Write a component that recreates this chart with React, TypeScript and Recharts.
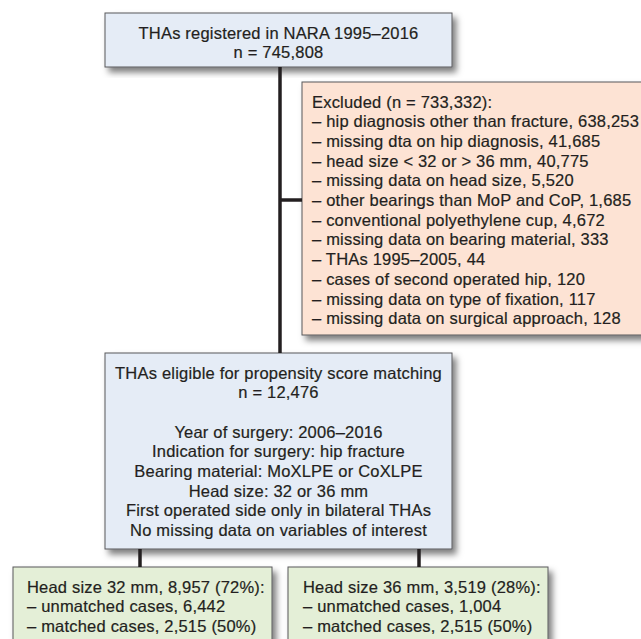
import { ComposedChart, XAxis, YAxis, ReferenceArea, ReferenceLine } from 'recharts';

// box texts
const registeredLines = ['THAs registered in NARA 1995–2016', 'n = 745,808'];

const excludedTotal = 733332;
const excludedReasons = [
  'hip diagnosis other than fracture',
  'missing dta on hip diagnosis',
  'head size < 32 or > 36 mm',
  'missing data on head size',
  'other bearings than MoP and CoP',
  'conventional polyethylene cup',
  'missing data on bearing material',
  'THAs 1995–2005',
  'cases of second operated hip',
  'missing data on type of fixation',
  'missing data on surgical approach',
];
const excludedCounts = [638253, 41685, 40775, 5520, 1685, 4672, 333, 44, 120, 117, 128];

const eligibleLines = [
  'THAs eligible for propensity score matching',
  'n = 12,476',
  '',
  'Year of surgery: 2006–2016',
  'Indication for surgery: hip fracture',
  'Bearing material: MoXLPE or CoXLPE',
  'Head size: 32 or 36 mm',
  'First operated side only in bilateral THAs',
  'No missing data on variables of interest',
];

const head32Lines = ['Head size 32 mm, 8,957 (72%):', '– unmatched cases, 6,442', '– matched cases, 2,515 (50%)'];
const head36Lines = ['Head size 36 mm, 3,519 (28%):', '– unmatched cases, 1,004', '– matched cases, 2,515 (50%)'];

const fmt = (n: number) => n.toLocaleString('en-US');
const excludedLines = [
  `Excluded (n = ${fmt(excludedTotal)}):`,
  ...excludedReasons.map((r, i) => `– ${r}, ${fmt(excludedCounts[i])}`),
];

const W = 641;
const H = 639;
const INK = '#231f20';
const FONT = '"Liberation Sans", Arial, Helvetica, sans-serif';
const LINE_H = 19.7;

function FlowBox(props: any) {
  const { x, y, width, height, lines, fill, align, pad, id } = props;
  const tx = align === 'middle' ? x + width / 2 : x + pad;
  return (
    <g>
      <defs>
        <filter id={id} x="-10%" y="-10%" width="130%" height="130%">
          <feDropShadow dx="4" dy="5" stdDeviation="3" floodColor="#000" floodOpacity="0.5" />
        </filter>
      </defs>
      <rect x={x} y={y} width={width} height={height} fill={fill} stroke="#58595b" strokeWidth={1} filter={`url(#${id})`} />
      {lines.map((t: string, i: number) => (
        <text
          key={i}
          x={tx}
          y={y + 19.5 + i * LINE_H}
          textAnchor={align === 'middle' ? 'middle' : 'start'}
          dominantBaseline="central"
          fontFamily={FONT}
          fontSize={16.5}
          letterSpacing={0.2}
          fill={INK}
          stroke={INK}
          strokeWidth={0.2}
        >
          {t}
        </text>
      ))}
    </g>
  );
}

const boxes = [
  { id: 'reg', x1: 105, x2: 452, y1: 13, y2: 67, lines: registeredLines, fill: '#e5ecf6', align: 'middle', pad: 0 },
  { id: 'exc', x1: 302, x2: 660, y1: 82, y2: 335, lines: excludedLines, fill: '#fde3d4', align: 'start', pad: 10 },
  { id: 'eli', x1: 105, x2: 452, y1: 353, y2: 549, lines: eligibleLines, fill: '#e5ecf6', align: 'middle', pad: 0 },
  { id: 'h32', x1: 13, x2: 272, y1: 567, y2: 660, lines: head32Lines, fill: '#e4efd7', align: 'start', pad: 14 },
  { id: 'h36', x1: 288, x2: 548, y1: 567, y2: 660, lines: head36Lines, fill: '#e4efd7', align: 'start', pad: 15 },
];

const connectors = [
  { x1: 280, y1: 67, x2: 280, y2: 353 },
  { x1: 280, y1: 200, x2: 302, y2: 200 },
  { x1: 140, y1: 549, x2: 140, y2: 567 },
  { x1: 419, y1: 549, x2: 419, y2: 567 },
];

export default function App() {
  return (
    <>
      <style>{`body{margin:0;}`}</style>
      <ComposedChart width={W} height={H} margin={{ top: 0, right: 0, bottom: 0, left: 0 }}>
        <XAxis type="number" dataKey="x" domain={[0, W]} hide allowDataOverflow />
        <YAxis type="number" dataKey="y" domain={[0, H]} reversed hide allowDataOverflow />
        {connectors.map((c, i) => (
          <ReferenceLine
            key={i}
            segment={[{ x: c.x1, y: c.y1 }, { x: c.x2, y: c.y2 }]}
            stroke={INK}
            strokeWidth={3.5}
            ifOverflow="visible"
          />
        ))}
        {boxes.map((b) => (
          <ReferenceArea
            key={b.id}
            x1={b.x1}
            x2={b.x2}
            y1={b.y1}
            y2={b.y2}
            ifOverflow="visible"
            shape={(p: any) => <FlowBox {...p} lines={b.lines} fill={b.fill} align={b.align} pad={b.pad} id={b.id} />}
          />
        ))}
      </ComposedChart>
    </>
  );
}
